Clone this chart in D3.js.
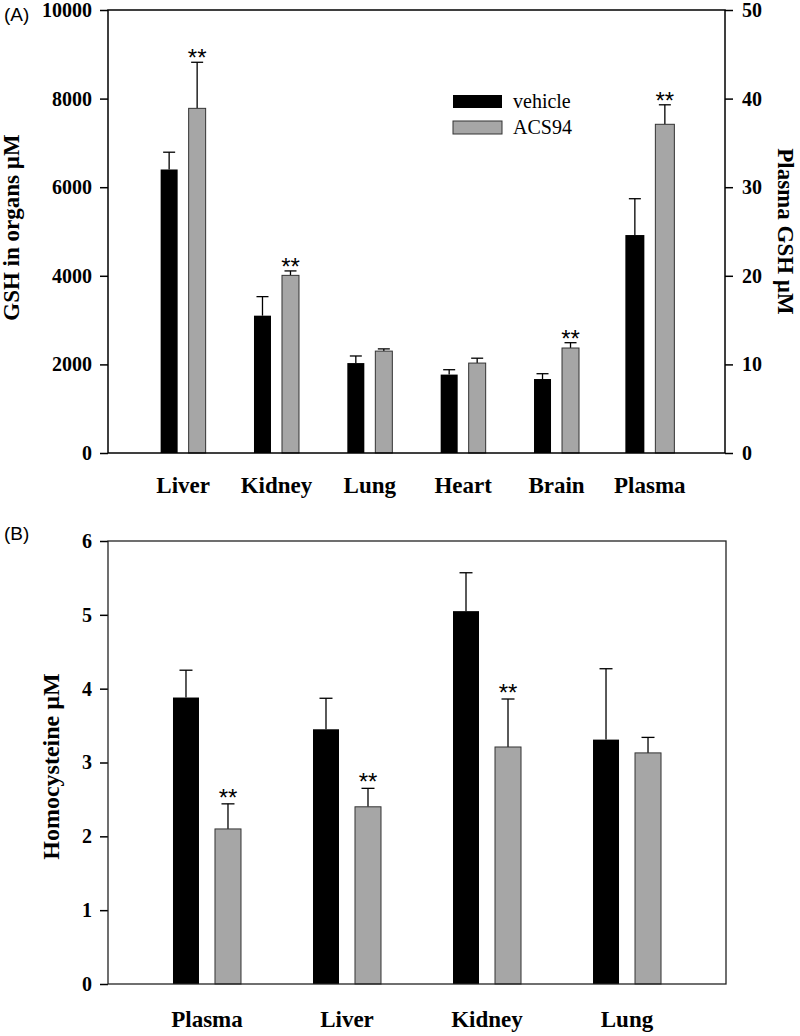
<!DOCTYPE html>
<html>
<head>
<meta charset="utf-8">
<script src="https://cdn.jsdelivr.net/npm/d3@7"></script>
<style>
  html, body { margin: 0; padding: 0; background: #fff; }
  svg { display: block; }
</style>
</head>
<body>
<svg id="chart" width="800" height="1036"></svg>
<script>
// ---------- Panel A data: GSH ----------
const organsA = ["Liver", "Kidney", "Lung", "Heart", "Brain", "Plasma"];
// organ GSH (left axis, µM) for first five categories; Plasma uses right axis
const gshVehicle    = [6400, 3100, 2030, 1770, 1670, 24.6];
const gshVehicleErr = [390, 430, 160, 110, 120, 4.1];
const gshAcs94      = [7780, 4010, 2300, 2030, 2370, 37.1];
const gshAcs94Err   = [1040, 100, 50, 110, 120, 2.2];
const gshSig        = [true, true, false, false, true, true];
const gshAxisSide   = ["left", "left", "left", "left", "left", "right"];
const gshLeftTicks  = [0, 2000, 4000, 6000, 8000, 10000];
const gshRightTicks = [0, 10, 20, 30, 40, 50];

// ---------- Panel B data: Homocysteine ----------
const organsB = ["Plasma", "Liver", "Kidney", "Lung"];
const hcyVehicle    = [3.88, 3.45, 5.05, 3.31];
const hcyVehicleErr = [0.37, 0.42, 0.52, 0.96];
const hcyAcs94      = [2.10, 2.40, 3.21, 3.13];
const hcyAcs94Err   = [0.34, 0.25, 0.65, 0.21];
const hcySig        = [true, true, true, false];
const hcyTicks      = [0, 1, 2, 3, 4, 5, 6];

const seriesNames = ["vehicle", "ACS94"];
const colors = { vehicle: "#000000", ACS94: "#a6a6a6" };

const svg = d3.select("#chart");
const serif = "'Liberation Serif', 'Times New Roman', Times, serif";
const sans = "'Liberation Sans', Arial, Helvetica, sans-serif";

function styleAxis(g) {
  g.select(".domain").remove();
  g.selectAll(".tick line").attr("stroke", "#000").attr("stroke-width", 1.5);
  g.selectAll(".tick text")
    .attr("font-family", serif).attr("font-weight", "bold")
    .attr("font-size", 20).attr("fill", "#000");
}

function drawErr(g, cx, yTop, yBar, cap) {
  g.append("line").attr("x1", cx).attr("x2", cx).attr("y1", yBar).attr("y2", yTop)
    .attr("stroke", "#000").attr("stroke-width", 1.3);
  g.append("line").attr("x1", cx - cap / 2).attr("x2", cx + cap / 2).attr("y1", yTop).attr("y2", yTop)
    .attr("stroke", "#000").attr("stroke-width", 1.3);
}

// ================= Panel A =================
{
  const L = 108, R = 725, T = 10, B = 453;
  const x = d3.scalePoint().domain(organsA).range([L, R]).padding(0.805);
  const yL = d3.scaleLinear().domain([0, 10000]).range([B, T]);
  const yR = d3.scaleLinear().domain([0, 50]).range([B, T]);
  const g = svg.append("g");

  organsA.forEach((c, i) => {
    const y = gshAxisSide[i] === "right" ? yR : yL;
    const bw = gshAxisSide[i] === "right" ? 19 : 17;
    const off = gshAxisSide[i] === "right" ? 15 : 14;
    const cx = x(c);
    const vals = [
      { s: "vehicle", v: gshVehicle[i], e: gshVehicleErr[i], cx: cx - off },
      { s: "ACS94", v: gshAcs94[i], e: gshAcs94Err[i], cx: cx + off }
    ];
    vals.forEach(d => {
      drawErr(g, d.cx, y(d.v + d.e), y(d.v), 12);
      g.append("rect")
        .attr("x", d.cx - bw / 2).attr("y", y(d.v))
        .attr("width", bw).attr("height", y(0) - y(d.v))
        .attr("fill", colors[d.s])
        .attr("stroke", d.s === "ACS94" ? "#333" : "none")
        .attr("stroke-width", 1);
    });
    if (gshSig[i]) {
      g.append("text").attr("x", cx + off).attr("y", y(gshAcs94[i] + gshAcs94Err[i]) + 4)
        .attr("text-anchor", "middle").attr("font-family", sans).attr("font-size", 24)
        .text("**");
    }
  });

  const axL = g.append("g").attr("transform", `translate(${L},0)`)
    .call(d3.axisLeft(yL).tickValues(gshLeftTicks).tickSize(8).tickPadding(8).tickFormat(d3.format("d")));
  styleAxis(axL);
  const axR = g.append("g").attr("transform", `translate(${R},0)`)
    .call(d3.axisRight(yR).tickValues(gshRightTicks).tickSize(8).tickPadding(9).tickFormat(d3.format("d")));
  styleAxis(axR);

  g.append("rect").attr("x", L).attr("y", T).attr("width", R - L).attr("height", B - T)
    .attr("fill", "none").attr("stroke", "#000").attr("stroke-width", 1.5);

  g.selectAll(".catA").data(organsA).enter().append("text")
    .attr("x", d => x(d)).attr("y", 493)
    .attr("text-anchor", "middle").attr("font-family", serif).attr("font-weight", "bold")
    .attr("font-size", 23).text(d => d);

  g.append("text").attr("transform", `translate(19,${(T + B) / 2 - 4}) rotate(-90)`)
    .attr("text-anchor", "middle").attr("font-family", serif).attr("font-weight", "bold")
    .attr("font-size", 23).text("GSH in organs \u00b5M");
  g.append("text").attr("transform", `translate(778,${(T + B) / 2}) rotate(90)`)
    .attr("text-anchor", "middle").attr("font-family", serif).attr("font-weight", "bold")
    .attr("font-size", 23).text("Plasma GSH \u00b5M");

  const lg = g.append("g");
  seriesNames.forEach((s, i) => {
    lg.append("rect").attr("x", 453).attr("y", 95 + i * 26).attr("width", 49).attr("height", 13)
      .attr("fill", colors[s]).attr("stroke", s === "ACS94" ? "#333" : "none");
    lg.append("text").attr("x", 513).attr("y", 108 + i * 26)
      .attr("font-family", serif).attr("font-size", 20).text(s);
  });

  svg.append("text").attr("x", 4).attr("y", 21).attr("font-family", sans)
    .attr("font-size", 19).text("(A)");
}

// ================= Panel B =================
{
  const L = 108, R = 726, T = 541, B = 984;
  const x = d3.scalePoint().domain(organsB).range([L, R]).padding(0.707);
  const y = d3.scaleLinear().domain([0, 6]).range([B, T]);
  const g = svg.append("g");
  const bw = 26, off = 21;

  organsB.forEach((c, i) => {
    const cx = x(c);
    const vals = [
      { s: "vehicle", v: hcyVehicle[i], e: hcyVehicleErr[i], cx: cx - off },
      { s: "ACS94", v: hcyAcs94[i], e: hcyAcs94Err[i], cx: cx + off }
    ];
    vals.forEach(d => {
      drawErr(g, d.cx, y(d.v + d.e), y(d.v), 13);
      g.append("rect")
        .attr("x", d.cx - bw / 2).attr("y", y(d.v))
        .attr("width", bw).attr("height", y(0) - y(d.v))
        .attr("fill", colors[d.s])
        .attr("stroke", d.s === "ACS94" ? "#333" : "none")
        .attr("stroke-width", 1);
    });
    if (hcySig[i]) {
      g.append("text").attr("x", cx + off).attr("y", y(hcyAcs94[i] + hcyAcs94Err[i]) + 2)
        .attr("text-anchor", "middle").attr("font-family", sans).attr("font-size", 24)
        .text("**");
    }
  });

  const ax = g.append("g").attr("transform", `translate(${L},0)`)
    .call(d3.axisLeft(y).tickValues(hcyTicks).tickSize(8).tickPadding(8).tickFormat(d3.format("d")));
  styleAxis(ax);

  g.append("rect").attr("x", L).attr("y", T).attr("width", R - L).attr("height", B - T)
    .attr("fill", "none").attr("stroke", "#222").attr("stroke-width", 1.3);

  g.selectAll(".catB").data(organsB).enter().append("text")
    .attr("x", d => x(d)).attr("y", 1027)
    .attr("text-anchor", "middle").attr("font-family", serif).attr("font-weight", "bold")
    .attr("font-size", 23).text(d => d);

  g.append("text").attr("transform", `translate(59,${(T + B) / 2 + 4}) rotate(-90)`)
    .attr("text-anchor", "middle").attr("font-family", serif).attr("font-weight", "bold")
    .attr("font-size", 24).text("Homocysteine \u00b5M");

  svg.append("text").attr("x", 4).attr("y", 540).attr("font-family", sans)
    .attr("font-size", 19).text("(B)");
}
</script>
</body>
</html>
